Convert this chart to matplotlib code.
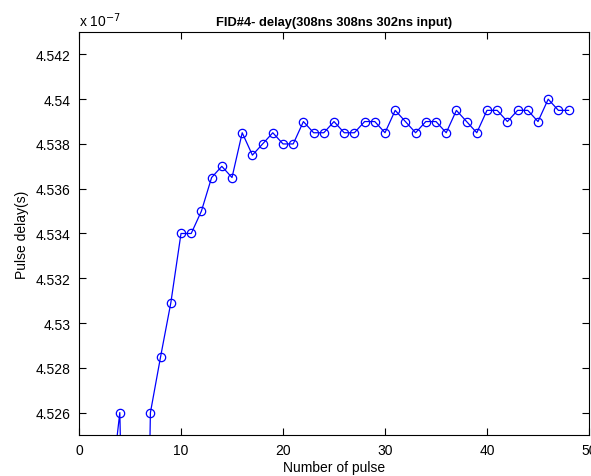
import matplotlib
matplotlib.use("Agg")
import matplotlib.pyplot as plt
from matplotlib.ticker import FuncFormatter

plt.rcParams['font.family'] = ['Liberation Sans', 'DejaVu Sans']

# pulse delay in units of 1e-7 s (points 1-3, 5, 6 fall below the visible range)
pulse_no = list(range(1, 49))
delay = [4.510, 4.515, 4.522, 4.526, 4.505, 4.500, 4.526, 4.5285, 4.5309, 4.5340,
         4.5340, 4.5350, 4.5365, 4.5370, 4.5365, 4.5385, 4.5375, 4.5380, 4.5385, 4.5380,
         4.5380, 4.5390, 4.5385, 4.5385, 4.5390, 4.5385, 4.5385, 4.5390, 4.5390, 4.5385,
         4.5395, 4.5390, 4.5385, 4.5390, 4.5390, 4.5385, 4.5395, 4.5390, 4.5385, 4.5395,
         4.5395, 4.5390, 4.5395, 4.5395, 4.5390, 4.5400, 4.5395, 4.5395]

xticks = [0, 10, 20, 30, 40, 50]
yticks = [4.526, 4.528, 4.530, 4.532, 4.534, 4.536, 4.538, 4.540, 4.542]

fig = plt.figure(figsize=(5.91, 4.77), dpi=100)
ax = fig.add_axes([0.1337, 0.086, 0.8629, 0.8448])

ax.plot(pulse_no, delay, color='#0000ff', linewidth=0.9, marker='o',
        markersize=6, markerfacecolor='none', markeredgecolor='#0000ff', markeredgewidth=0.9)

ax.set_xlim(0, 50)
ax.set_ylim(4.525, 4.543)
ax.set_xticks(xticks)
ax.set_yticks(yticks)
ax.yaxis.set_major_formatter(FuncFormatter(lambda v, p: '%g' % round(v, 4)))
ax.tick_params(direction='in', top=True, right=True, length=5, width=0.8,
               labelsize=10, pad=6)
for s in ax.spines.values():
    s.set_linewidth(0.8)

ax.set_xlabel('Number of pulse', fontsize=10, labelpad=2)
ax.set_ylabel('Pulse delay(s)', fontsize=10, labelpad=5)
ax.set_title('FID#4- delay(308ns 308ns 302ns input)', fontsize=9.3,
             fontweight='bold', pad=5)
fig.text(0.1337, 0.9434, r'x 10$^{-7}$', fontsize=10, ha='left', va='baseline')

fig.savefig('out.png', dpi=100)
